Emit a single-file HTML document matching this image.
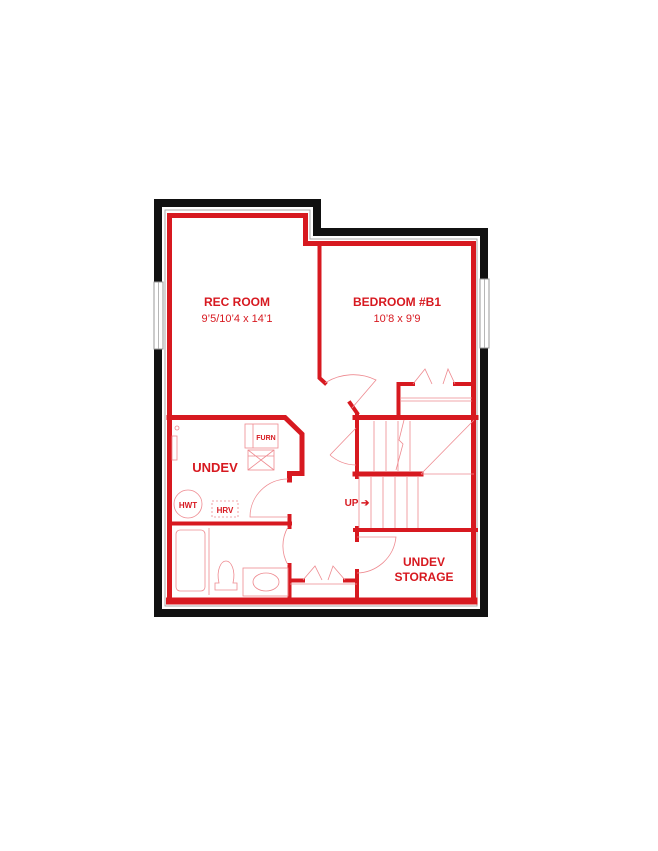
<!DOCTYPE html>
<html><head><style>html,body{margin:0;padding:0;background:#fff}svg{display:block}</style></head><body>
<svg width="658" height="851" viewBox="0 0 658 851" xmlns="http://www.w3.org/2000/svg" font-family="Liberation Sans, sans-serif">
<path d="M154 199 H321 V228 H488 V617 H154 Z M162 207 V609 H480 V236 H313 V207 Z" fill="#111" fill-rule="evenodd"/>
<path d="M165 210 V606 H477 V239 H310 V210 Z" fill="none" stroke="#aaa" stroke-width="1"/>
<rect x="154" y="282" width="9" height="67" fill="#fff" stroke="#999" stroke-width="1"/>
<line x1="158.5" y1="282" x2="158.5" y2="349" stroke="#999" stroke-width="0.7"/>
<rect x="480" y="279" width="9" height="69" fill="#fff" stroke="#999" stroke-width="1"/>
<line x1="484.5" y1="279" x2="484.5" y2="348" stroke="#999" stroke-width="0.7"/>
<g stroke="#d71920" fill="none" stroke-linecap="square">
<path d="M169.5 600 V215.5 H305.5 V243.5 H473.5 V600 Z" stroke-width="5"/>
<path d="M169.5 601 H474" stroke-width="7"/>
<path d="M319.5 245 V378 L325 383" stroke-width="4"/>
<path d="M398.5 415 V384 H413 M455 384 H472" stroke-width="4"/>
<path d="M169 417.5 H285 L302 434 V473.5 H289.5 V480" stroke-width="5"/>
<path d="M169 523.5 H290" stroke-width="4"/>
<path d="M289.5 516 V527 M289.5 565 V600" stroke-width="4"/>
<path d="M357 415 V477" stroke-width="4"/>
<path d="M355 417.5 H476" stroke-width="5"/>
<path d="M355 474 H421" stroke-width="5"/>
<path d="M355 530 H476" stroke-width="4"/>
<path d="M357 528 V540 M357 571 V600" stroke-width="4"/>
<path d="M290 580.5 H303 M345 580.5 H356" stroke-width="4"/>
<path d="M350 403 L357 413" stroke-width="4"/>
</g>
<g stroke="#ee8a90" fill="none" stroke-width="0.8">
<path d="M325 383 A52 52 0 0 1 376 380 L352 408"/>
<path d="M413 384 L425 369 L432 384 M443 384 L448 369 L455 384"/>
<path d="M400 398 H472 M400 401 H472"/>
<path d="M330 455 L356 428 M330 455 A40 40 0 0 0 356 465"/>
<path d="M374 421 V472 M386 421 V472 M398 421 V472 M410 421 V472"/>
<path d="M404 420 L399 440 L403 444 L396 470"/>
<path d="M421 474 L474 420"/>
<path d="M421 474 H474"/>
<path d="M359 476 V528 M371 476 V528 M383 476 V528 M395 476 V528 M407 476 V528 M418 476 V528"/>
<path d="M288 479 A38 38 0 0 0 250 517 H288"/>
<path d="M288 527 A38 38 0 0 0 288 565"/>
<path d="M357 537 H396 A40 40 0 0 1 357 573"/>
<path d="M303 580 L315 566 L322 580 M328 580 L333 566 L345 580 M290 584 H357"/>
<rect x="176" y="530" width="29" height="61" rx="4"/>
<path d="M209 528 V595"/>
<path d="M215 590 H237 V583 L233 583 C236 570 231 561 226 561 C221 561 216 570 219 583 L215 583 Z"/>
<rect x="243" y="568" width="45" height="28"/>
<ellipse cx="266" cy="582" rx="13" ry="9"/>
<circle cx="188" cy="504" r="14"/>
<rect x="212" y="501" width="26" height="16" stroke-dasharray="2,2"/>
<rect x="245" y="424" width="33" height="24"/>
<path d="M253 424 V448"/>
<rect x="248" y="450" width="26" height="20"/>
<path d="M248 456 H274 M248 450 L274 470 M274 450 L248 470"/>
<circle cx="177" cy="428" r="2"/>
<rect x="172" y="436" width="5" height="24"/>
</g>
<g fill="#d71920" font-weight="bold" text-anchor="middle">
<text x="237" y="306" font-size="12">REC ROOM</text>
<text x="237" y="322" font-size="11" font-weight="normal">9’5/10’4 x 14’1</text>
<text x="397" y="306" font-size="12">BEDROOM #B1</text>
<text x="397" y="322" font-size="11" font-weight="normal">10’8 x 9’9</text>
<text x="215" y="472" font-size="13">UNDEV</text>
<text x="188" y="508" font-size="8">HWT</text>
<text x="225" y="513" font-size="8">HRV</text>
<text x="266" y="440" font-size="7">FURN</text>
<text x="357" y="506" font-size="10">UP ➔</text>
<text x="424" y="566" font-size="12">UNDEV</text>
<text x="424" y="581" font-size="12">STORAGE</text>
</g>
</svg>
</body></html>
